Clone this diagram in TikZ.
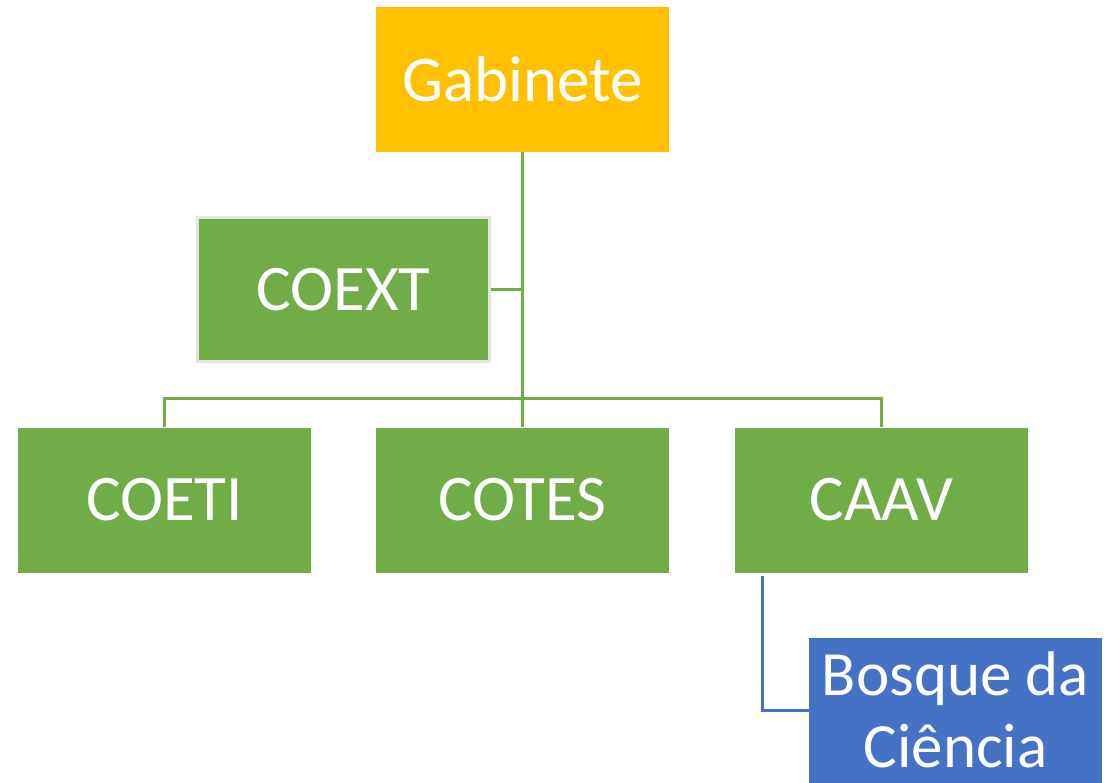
\documentclass[tikz,border=0pt]{standalone}
\usepackage{fontspec}
\setmainfont{Carlito}
\definecolor{gold}{HTML}{FFC000}
\definecolor{grn}{HTML}{70AD47}
\definecolor{blu}{HTML}{4472C4}
\definecolor{lgray}{HTML}{E4E4E4}
\begin{document}
\begin{tikzpicture}[x=1pt,y=-1pt,
  box/.style={rectangle, inner sep=0pt, minimum width=293pt, minimum height=145pt, text=white, font=\fontsize{65}{78}\selectfont},
  conn/.style={line width=3pt, grn},
  bconn/.style={line width=3pt, blu}]
\useasboundingbox (0,0) rectangle (1116,782);
\node[box, fill=gold] (gab) at (522.5,79.5) {Gabinete};
\node[box, fill=grn, draw=lgray, line width=3pt, minimum width=292pt, minimum height=144pt] (coext) at (343.5,289.5) {COEXT};
\node[box, fill=grn] (coeti) at (164.5,500) {COETI};
\node[box, fill=grn] (cotes) at (522.5,500) {COTES};
\node[box, fill=grn] (caav) at (881.5,500) {CAAV};
\begin{scope}
\clip (0,0) rectangle (1116,782);
\node[box, fill=blu, align=center, font=\fontsize{63}{72}\selectfont] (bosque) at (955.5,710) {Bosque da\\Ciência};
\end{scope}
\coordinate (bar) at (522.5,398);
\draw[conn] (gab.south) -- (bar);
\draw[conn] (coext.east) -- (coext.east -| gab.south);
\draw[conn] (coeti.north) -- (coeti.north |- bar) -- (caav.north |- bar) -- (caav.north);
\draw[conn] (bar) -- (cotes.north);
\draw[bconn] ([xshift=28pt,yshift=-3pt]caav.south west) |- (bosque.west);
\end{tikzpicture}
\end{document}
